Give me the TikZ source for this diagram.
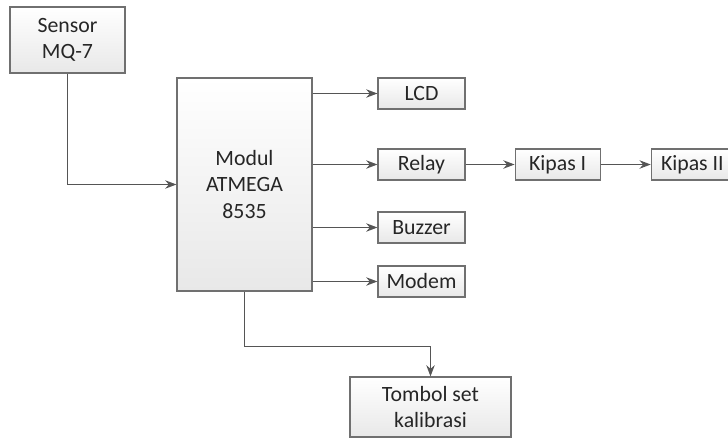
\documentclass[tikz,border=0pt]{standalone}
\usepackage{fontspec}
\setmainfont{Carlito}
\definecolor{blockEdge}{HTML}{707070}
\definecolor{blockFill}{HTML}{E8E8E8}
\definecolor{wireGray}{HTML}{555555}
\usetikzlibrary{arrows.meta, positioning, shadows}

\begin{document}
\begin{tikzpicture}[
        x=0.025cm, y=-0.025cm,
        block/.style={
          draw=blockEdge,
          top color=white,
          bottom color=blockFill,
          text=black!85,
          minimum width=2.175cm,
          minimum height=0.775cm,
          inner sep=0pt,
          align=center,
          font=\fontsize{15.5}{19}\selectfont,
          line width=0.8pt,
          drop shadow={shadow xshift=0.8pt, shadow yshift=-0.8pt, fill=black!30, opacity=0.5},
        },
        wire/.style={-{Stealth[length=8pt, width=6pt]}, wireGray, line width=0.9pt},
      ]
        \useasboundingbox (0,0) rectangle (728,441);

        \node[block, minimum width=2.875cm, minimum height=1.65cm] (sensor) at (67.5,40) {Sensor\\MQ-7};
        \node[block, minimum width=3.375cm, minimum height=5.325cm] (modul) at (244.5,184.5) {Modul\\ATMEGA\\8535};
        \node[block] (lcd) at (421.5,93.5) {LCD};
        \node[block] (relay) at (421.5,164.5) {Relay};
        \node[block, minimum width=2.125cm, right=1.225cm of relay] (kipasA) {Kipas I};
        \node[block, minimum width=2.05cm, right=1.25cm of kipasA] (kipasB) {Kipas II};
        \node[block] (buzzer) at (421.5,227.5) {Buzzer};
        \node[block] (modem) at (421.5,281.5) {Modem};
        \node[block, minimum width=4.025cm, minimum height=1.5cm] (tombol) at (430.5,407) {Tombol set\\kalibrasi};

        \draw[wire] (sensor.south) |- (modul.west);
        \foreach \out in {lcd, relay, buzzer, modem}
          \draw[wire] (modul.east |- \out) -- (\out);
        \draw[wire] (relay) -- (kipasA);
        \draw[wire] (kipasA) -- (kipasB);
        \draw[wire] (modul.south) -- ++(0,55) -| (tombol.north);
      \end{tikzpicture}
\end{document}
